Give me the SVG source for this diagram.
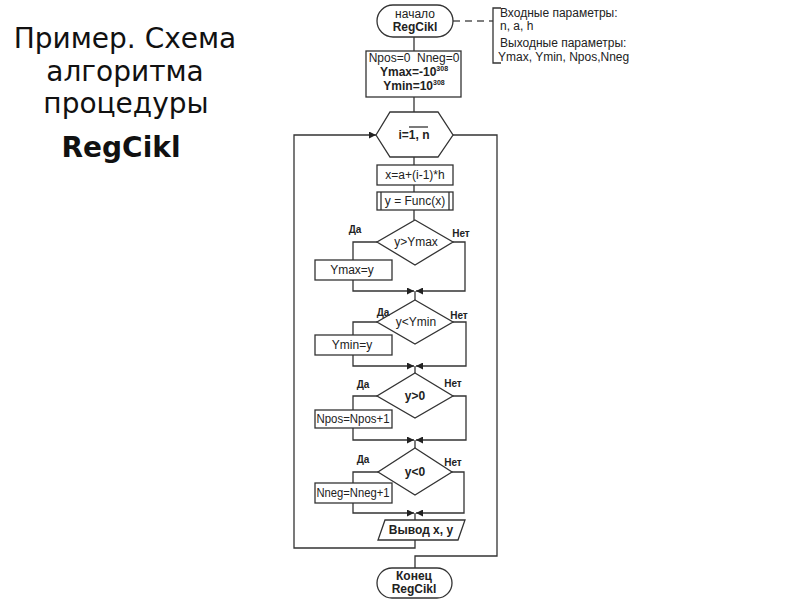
<svg xmlns="http://www.w3.org/2000/svg" width="800" height="600" viewBox="0 0 800 600">
<style>
.title{font-family:"DejaVu Sans",sans-serif;font-size:28px;fill:#111;text-anchor:middle}
.s{fill:#fff;stroke:#333;stroke-width:1.3}
.t{font-family:"Liberation Sans",Arial,sans-serif;font-size:12px;fill:#222;text-anchor:middle}
.b{font-weight:bold}
.lbl{font-family:"Liberation Sans",Arial,sans-serif;font-size:10px;font-weight:bold;fill:#222;text-anchor:middle}
.p{font-family:"Liberation Sans",Arial,sans-serif;font-size:12px;fill:#222}
.c{fill:none;stroke:#333;stroke-width:1.3}
.d{fill:none;stroke:#555;stroke-width:1.3;stroke-dasharray:7 5}
</style>
<defs>
<marker id="ar" viewBox="0 0 10 10" refX="10" refY="5" markerWidth="7" markerHeight="7" orient="auto" markerUnits="userSpaceOnUse">
<path d="M0,0 L10,5 L0,10 z" fill="#222"/>
</marker>
</defs>
<rect width="800" height="600" fill="#fff"/>
<g id="title">
<text class="title" x="125" y="48">Пример. Схема</text>
<text class="title" x="125" y="81">алгоритма</text>
<text class="title" x="126" y="113">процедуры</text>
<text class="title" x="121" y="157" font-weight="bold">RegCikl</text>
</g>
<g id="connectors">
<path class="c" d="M414,37 V51"/>
<path class="c" d="M414,97 V112"/>
<path class="c" d="M414,157 V165"/>
<path class="c" d="M414,185 V192"/>
<path class="c" d="M414,210 V220"/>
<path class="c" d="M377,242 H353 V260"/>
<path class="c" d="M353,280 V291 H414" marker-end="url(#ar)"/>
<path class="c" d="M453,242 H465 V291 H416" marker-end="url(#ar)"/>
<path class="c" d="M415,291 V300"/>
<path class="c" d="M377,322 H353 V335"/>
<path class="c" d="M353,355 V366 H414" marker-end="url(#ar)"/>
<path class="c" d="M453,322 H466 V366 H416" marker-end="url(#ar)"/>
<path class="c" d="M415,366 V373"/>
<path class="c" d="M377,396 H353 V410"/>
<path class="c" d="M353,428 V440 H414" marker-end="url(#ar)"/>
<path class="c" d="M453,396 H466 V440 H416" marker-end="url(#ar)"/>
<path class="c" d="M415,440 V448"/>
<path class="c" d="M378,472 H353 V483"/>
<path class="c" d="M353,503 V513 H414" marker-end="url(#ar)"/>
<path class="c" d="M452,472 H464 V513 H416" marker-end="url(#ar)"/>
<path class="c" d="M415,513 V520"/>
<path class="c" d="M415,540 V548 H294 V135 H376" marker-end="url(#ar)"/>
<path class="c" d="M453,135 H497 V556 H415 V568"/>
<path class="d" d="M453,21 H493"/>
</g>
<g id="start">
<rect class="s" x="377" y="5" width="76" height="32" rx="16"/>
<text class="t" x="415" y="18" font-size="10.5">начало</text>
<text class="t b" x="415" y="31" font-size="10.5">RegCikl</text>
</g>
<g id="params">
<path class="c" d="M501,8 H493 V63 H501"/>
<text class="p" x="500" y="17">Входные параметры:</text>
<text class="p" x="500" y="30">n, a, h</text>
<text class="p" x="500" y="47">Выходные параметры:</text>
<text class="p" x="498" y="61">Ymax, Ymin, Npos,Nneg</text>
</g>
<g id="init">
<rect class="s" x="366" y="51" width="95" height="46"/>
<text class="t" x="414" y="62" font-size="11.5" xml:space="preserve">Npos=0  Nneg=0</text>
<text class="t b" x="414" y="76">Ymax=-10<tspan font-size="7" dy="-5">308</tspan></text>
<text class="t b" x="414" y="90">Ymin=10<tspan font-size="7" dy="-5">308</tspan></text>
</g>
<g id="loop">
<polygon class="s" points="376,135 390,112 438,112 453,135 438,157 390,157"/>
<text class="t b" x="414" y="139" font-size="11">i=1, n</text>
<line x1="409" y1="127" x2="428" y2="127" stroke="#222" stroke-width="1.2"/>
</g>
<g id="calcx">
<rect class="s" x="377" y="165" width="76" height="20"/>
<text class="t" x="415" y="179">x=a+(i-1)*h</text>
</g>
<g id="func">
<rect class="s" x="377" y="192" width="76" height="18"/>
<line class="c" x1="381" y1="192" x2="381" y2="210"/>
<line class="c" x1="449" y1="192" x2="449" y2="210"/>
<text class="t" x="415" y="205">y = Func(x)</text>
</g>
<g id="cond1">
<polygon class="s" points="415,220 453,242 415,265 377,242"/>
<text class="t" x="416" y="246">y&gt;Ymax</text>
<text class="lbl" x="355" y="233">Да</text>
<text class="lbl" x="461" y="237">Нет</text>
</g>
<g id="setmax">
<rect class="s" x="315" y="260" width="77" height="20"/>
<text class="t" x="352" y="274">Ymax=y</text>
</g>
<g id="cond2">
<polygon class="s" points="415,300 453,322 415,344 377,322"/>
<text class="t" x="416" y="326">y&lt;Ymin</text>
<text class="lbl" x="383" y="316">Да</text>
<text class="lbl" x="459" y="319">Нет</text>
</g>
<g id="setmin">
<rect class="s" x="315" y="335" width="77" height="20"/>
<text class="t" x="352" y="349">Ymin=y</text>
</g>
<g id="cond3">
<polygon class="s" points="415,373 453,396 415,418 377,396"/>
<text class="t b" x="415" y="400">y&gt;0</text>
<text class="lbl" x="363" y="388">Да</text>
<text class="lbl" x="453" y="387">Нет</text>
</g>
<g id="incpos">
<rect class="s" x="315" y="410" width="77" height="18"/>
<text class="t" x="353" y="423" textLength="73" lengthAdjust="spacingAndGlyphs">Npos=Npos+1</text>
</g>
<g id="cond4">
<polygon class="s" points="415,448 452,472 415,495 378,472"/>
<text class="t b" x="415" y="476">y&lt;0</text>
<text class="lbl" x="363" y="463">Да</text>
<text class="lbl" x="453" y="466">Нет</text>
</g>
<g id="incneg">
<rect class="s" x="315" y="483" width="77" height="20"/>
<text class="t" x="353" y="497" textLength="73" lengthAdjust="spacingAndGlyphs">Nneg=Nneg+1</text>
</g>
<g id="output">
<polygon class="s" points="385,520 465,520 458,540 378,540"/>
<text class="t b" x="421" y="534" font-size="11.5">Вывод x, y</text>
</g>
<g id="end">
<rect class="s" x="377" y="568" width="75" height="30" rx="15"/>
<text class="t b" x="414" y="580" font-size="10.5">Конец</text>
<text class="t b" x="414" y="593" font-size="10.5">RegCikl</text>
</g>
</svg>
